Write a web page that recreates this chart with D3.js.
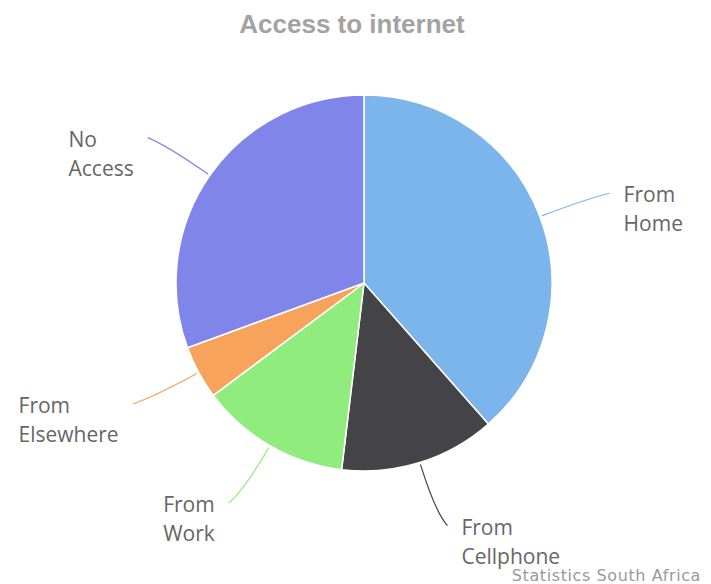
<!DOCTYPE html>
<html>
<head>
<meta charset="utf-8">
<script src="https://cdn.jsdelivr.net/npm/d3@7"></script>
<style>
  body { margin: 0; background: #fff; }
</style>
</head>
<body>
<div id="chart"></div>
<script>
const categories = ['From Home', 'From Cellphone', 'From Work', 'From Elsewhere', 'No Access'];
const shares = [38.5, 13.4, 12.9, 4.6, 30.6];
const colours = ['#7cb5ec', '#434348', '#90ed7d', '#f7a35c', '#8085e9'];
const labelLines = [['From', 'Home'], ['From', 'Cellphone'], ['From', 'Work'], ['From', 'Elsewhere'], ['No', 'Access']];

const width = 711, height = 584;
const cx = 364, cy = 283, radius = 188;

const svg = d3.select('#chart')
  .append('svg')
  .attr('width', width)
  .attr('height', height);

svg.append('text')
  .attr('x', 352)
  .attr('y', 33)
  .attr('text-anchor', 'middle')
  .attr('font-family', 'Liberation Sans, Arial, sans-serif')
  .attr('font-weight', 'bold')
  .attr('font-size', '26px')
  .attr('fill', '#a3a3a3')
  .text('Access to internet');

const pie = d3.pie().sort(null).value(d => d);
const arcs = pie(shares);
const arc = d3.arc().innerRadius(0).outerRadius(radius);

const g = svg.append('g').attr('transform', `translate(${cx}, ${cy})`);

g.selectAll('path.slice')
  .data(arcs)
  .enter()
  .append('path')
  .attr('class', 'slice')
  .attr('d', arc)
  .attr('fill', (d, i) => colours[i])
  .attr('stroke', '#fff')
  .attr('stroke-width', 1.5);

const polar = (a, r) => [Math.sin(a) * r, -Math.cos(a) * r];

arcs.forEach((d, i) => {
  const mid = (d.startAngle + d.endAngle) / 2;
  const right = Math.sin(mid) > 0;
  const p0 = polar(mid, radius + 2);
  const c = polar(mid, 240);
  const e = polar(mid, 254);
  const end = [e[0] + (right ? 8 : -8), e[1]];

  g.append('path')
    .attr('d', `M${p0[0]},${p0[1]} Q${c[0]},${c[1]} ${end[0]},${end[1]}`)
    .attr('fill', 'none')
    .attr('stroke', colours[i])
    .attr('stroke-width', 1.2);

  const t = g.append('text')
    .attr('font-family', 'Open Sans, sans-serif')
    .attr('font-size', '21px')
    .attr('fill', '#666');
  labelLines[i].forEach((ln, j) => {
    t.append('tspan').attr('dy', j === 0 ? 0 : 29).text(ln);
  });
  const w = d3.max(t.selectAll('tspan').nodes(), n => n.getComputedTextLength());
  const x = right ? end[0] + 14 : end[0] - 14 - w;
  t.attr('x', x).attr('y', end[1] + 9);
  t.selectAll('tspan').attr('x', x);
});

svg.append('text')
  .attr('x', 701)
  .attr('y', 581)
  .attr('text-anchor', 'end')
  .attr('font-family', 'DejaVu Sans, sans-serif')
  .attr('font-size', '16px')
  .attr('letter-spacing', '0.6px')
  .attr('fill', '#999')
  .text('Statistics South Africa');
</script>
</body>
</html>
